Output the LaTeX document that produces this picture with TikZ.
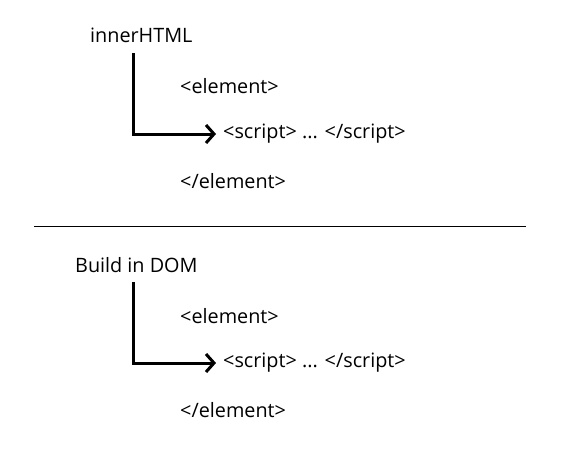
\documentclass[tikz,border=0pt]{standalone}
\usepackage{fontspec}
\setmainfont{Open Sans}
\usetikzlibrary{arrows.meta}
\begin{document}
\begin{tikzpicture}[x=1pt,y=-1pt,
  lbl/.style={anchor=west,inner sep=0pt,font=\fontsize{19.8}{23}\selectfont},
  conn/.style={line width=3pt,-{Straight Barb[length=8pt,width=18pt,line width=3pt]}}]
\useasboundingbox (0,0) rectangle (570,463);
% top
\node[lbl] (t1) at (90,35) {innerHTML};
\node[lbl] (t2) at (180,86) {<element>};
\node[lbl] (t3) at (223,134) {<script> ... </script>};
\node[lbl] (t4) at (180,181) {</element>};
\coordinate (tc) at (133,53);
\coordinate (te) at (216,134);
\draw[conn] (tc) |- (te);
% separator
\coordinate (s1) at (34,226);
\coordinate (s2) at (526,226);
\draw[line width=0.8pt] (s1) -- (s2);
% bottom
\node[lbl] (b1) at (75,265) {Build in DOM};
\node[lbl] (b2) at (180,316) {<element>};
\node[lbl] (b3) at (223,363) {<script> ... </script>};
\node[lbl] (b4) at (180,410) {</element>};
\coordinate (bc) at (133,282);
\coordinate (be) at (216,363);
\draw[conn] (bc) |- (be);
\end{tikzpicture}
\end{document}
